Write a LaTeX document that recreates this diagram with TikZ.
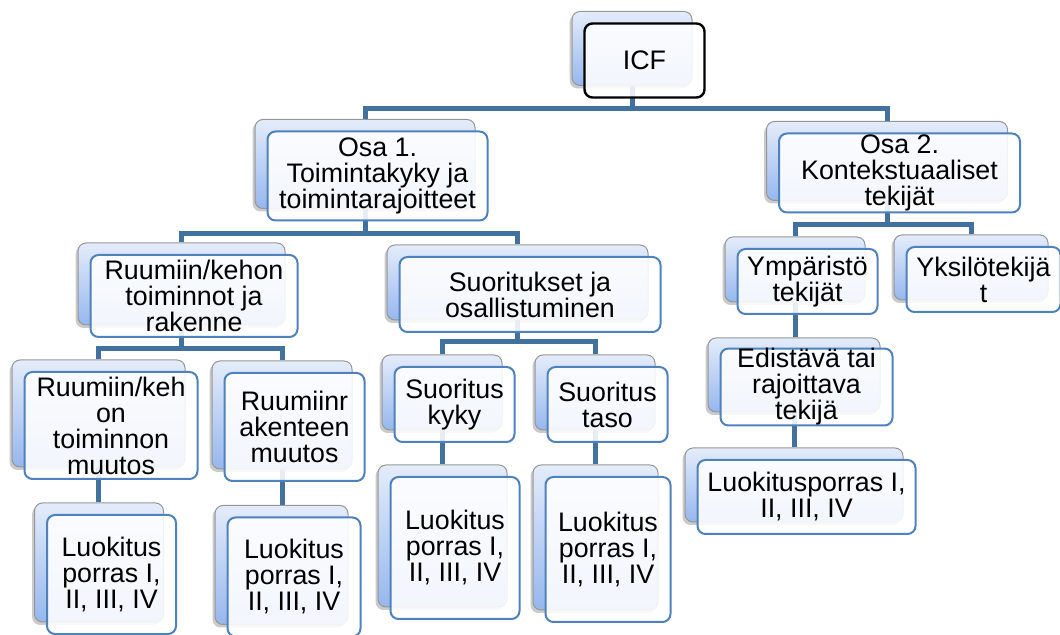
\documentclass[tikz,border=0pt]{standalone}
\usepackage{fontspec}
\setmainfont{Liberation Sans}
\usetikzlibrary{shadows,backgrounds}
\definecolor{connc}{RGB}{65,113,156}
\definecolor{frontline}{RGB}{79,129,189}
\definecolor{backtop}{RGB}{228,236,250}
\definecolor{backbot}{RGB}{150,183,238}
\definecolor{backline}{RGB}{150,150,150}
\tikzset{
  backbox/.style={draw=backline, line width=0.5pt, rounded corners=4pt,
    top color=backtop, bottom color=backbot,
    drop shadow={shadow xshift=-1.2pt, shadow yshift=-1.5pt, opacity=0.35, fill=black!60}},
  frontbox/.style={draw=frontline, line width=1pt, rounded corners=4pt,
    fill=white, fill opacity=0.88, text opacity=1, align=center, inner sep=0pt,
    font=\fontsize{13.4}{13}\selectfont},
  rootbox/.style={frontbox, draw=black, line width=1.2pt},
  conn/.style={draw=connc, line width=2.5pt, line join=miter}
}
\newcommand\twobox[7][frontbox]{%
  \node[backbox, minimum width=#5*0.5pt, minimum height=#6*0.5pt] (#2-b) at (#3,#4) {};
  \node[#1, minimum width=#5*0.5pt, minimum height=#6*0.5pt] (#2) at (#3+12.5,#4+12) {#7};
}
\begin{document}
\begin{tikzpicture}[x=0.5pt,y=-0.5pt]
\useasboundingbox (0,0) rectangle (1060,635);
\twobox[rootbox]{icf}{632}{48.5}{120}{74}{ICF}
\twobox{osa1}{365}{164}{220}{89}{Osa 1.\\Toimintakyky ja\\toimintarajoitteet}
\twobox{osa2}{887}{161}{241}{79}{Osa 2.\\Kontekstuaaliset\\tekijät}
\twobox{ruk}{181.5}{284}{207}{82}{Ruumiin/kehon\\toiminnot ja\\rakenne}
\twobox{suo}{517.5}{282.5}{261}{75}{Suoritukset ja\\osallistuminen}
\twobox{ymp}{795}{269.5}{140}{65}{Ympäristö\\tekijät}
\twobox{yks}{971}{267.5}{154}{65}{Yksilötekijä\\t}
\twobox{edi}{794}{375}{172}{74}{Edistävä tai\\rajoittava\\tekijä}
\twobox{lkr}{794}{485}{218}{74}{Luokitusporras I,\\II, III, IV}
\twobox{rko}{98.5}{413.5}{173}{107}{Ruumiin/keh\\on\\toiminnon\\muutos}
\twobox{l1}{99}{562.5}{129}{119}{Luokitus\\porras I,\\II, III, IV}
\twobox{rrm}{282}{415}{140}{108}{Ruumiinr\\akenteen\\muutos}
\twobox{l2}{281.5}{565}{133}{119}{Luokitus\\porras I,\\II, III, IV}
\twobox{kyky}{442}{392.5}{120}{75}{Suoritus\\kyky}
\twobox{l3}{442.5}{536}{129}{142}{Luokitus\\porras I,\\II, III, IV}
\twobox{taso}{595}{392.5}{120}{75}{Suoritus\\taso}
\twobox{l4}{595.5}{537.5}{125}{145}{Luokitus\\porras I,\\II, III, IV}
\begin{pgfonlayer}{background}
\draw[conn] (icf-b.south) -- (icf-b.south |- 0,109) -| (osa1-b.north);
\draw[conn] (icf-b.south |- 0,109) -| (osa2-b.north);
\draw[conn] (osa1-b.south) -- (osa1-b.south |- 0,234) -| (ruk-b.north);
\draw[conn] (osa1-b.south |- 0,234) -| (suo-b.north);
\draw[conn] (osa2-b.south) -- (osa2-b.south |- 0,225) -| (ymp-b.north);
\draw[conn] (osa2-b.south |- 0,225) -| (yks-b.north);
\draw[conn] (ruk-b.south) -- (ruk-b.south |- 0,349) -| (rko-b.north);
\draw[conn] (ruk-b.south |- 0,349) -| (rrm-b.north);
\draw[conn] (suo-b.south) -- (suo-b.south |- 0,342) -| (kyky-b.north);
\draw[conn] (suo-b.south |- 0,342) -| (taso-b.north);
\draw[conn] (ymp-b.south) -- (ymp-b.south |- edi-b.north);
\draw[conn] (edi-b.south) -- (edi-b.south |- lkr-b.north);
\draw[conn] (rko-b.south) -- (rko-b.south |- l1-b.north);
\draw[conn] (rrm-b.south) -- (rrm-b.south |- l2-b.north);
\draw[conn] (kyky-b.south) -- (kyky-b.south |- l3-b.north);
\draw[conn] (taso-b.south) -- (taso-b.south |- l4-b.north);
\end{pgfonlayer}
\end{tikzpicture}
\end{document}
